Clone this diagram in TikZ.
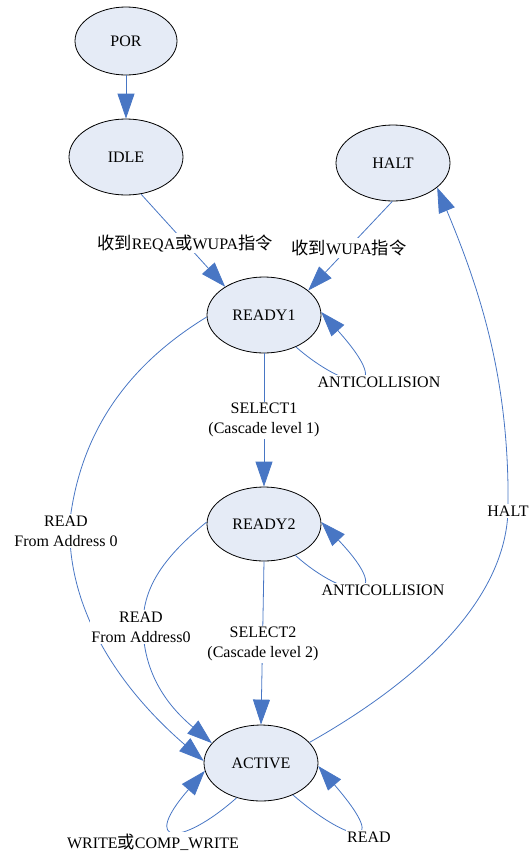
\documentclass[tikz,border=0pt]{standalone}
\usepackage{fontspec}
\setmainfont{Liberation Serif}
\newfontfamily\cjk{Noto Sans CJK SC}[Scale=1.08]
\usetikzlibrary{shapes.geometric,arrows.meta}
\definecolor{statefill}{RGB}{229,235,246}
\definecolor{edgeblue}{RGB}{72,118,196}
\tikzset{
  state/.style={ellipse, draw=black, line width=0.8pt, fill=statefill,
    minimum width=114pt, minimum height=76pt, inner sep=0pt, font=\fontsize{16}{19}\selectfont},
  smallstate/.style={state, minimum width=102pt, minimum height=68pt},
  edge/.style={draw=edgeblue, line width=0.8pt,
    -{Triangle[width=17pt,length=25pt,fill=edgeblue]}},
  lbl/.style={fill=white, inner sep=1.5pt, align=center,
    font=\fontsize{16}{20}\selectfont},
}
\begin{document}
\begin{tikzpicture}[x=1pt,y=-1pt]
\useasboundingbox (0,0) rectangle (531,852);

% states
\node[smallstate] (POR)    at (126,41)  {POR};
\node[state]      (IDLE)   at (126,157) {IDLE};
\node[state]      (HALT)   at (393,163) {HALT};
\node[state]      (READY1) at (264,315) {READY1};
\node[state, minimum height=74pt] (READY2) at (264,524) {READY2};
\node[state]      (ACTIVE) at (261,763) {ACTIVE};

% transitions
\draw[edge] (POR) -- (IDLE);
\draw[edge] (IDLE.-68) -- (READY1.144);
\draw[edge] (HALT.-91) -- (READY1.29);
\draw[edge] (READY1.-45) .. controls (345,390) and (400,400) .. (READY1.3);
\draw[edge] (READY1.south) -- (READY2.north);
\draw[edge] (READY2.-45) .. controls (345,600) and (400,605) .. (READY2.2);
\draw[edge] (READY2.south) -- (ACTIVE.north);
\draw[edge] (READY1.182) .. controls (120,370) and (80,440) .. (70,520)
            .. controls (66,600) and (110,680) .. (ACTIVE.178);
\draw[edge] (READY2.178) .. controls (160,560) and (143,590) .. (143,625)
            .. controls (143,680) and (175,712) .. (ACTIVE.158);
\draw[edge] (ACTIVE.23) .. controls (420,680) and (505,600) .. (508,511)
            .. controls (510,380) and (480,290) .. (HALT.-29);
\draw[edge] (ACTIVE.-125) .. controls (180,848) and (140,845) .. (ACTIVE.-172);
\draw[edge] (ACTIVE.-45) .. controls (345,840) and (395,855) .. (ACTIVE.-3);

% transition labels
\node[lbl] (l1) at (185,243) {{\cjk 收到}REQA{\cjk 或}WUPA{\cjk 指令}};
\node[lbl] (l2) at (349,248) {{\cjk 收到}WUPA{\cjk 指令}};
\node[lbl] (l3) at (379,382) {ANTICOLLISION};
\node[lbl] (l4) at (264,420) {SELECT1\\(Cascade level 1)};
\node[lbl] (l5) at (383,590) {ANTICOLLISION};
\node[lbl] (l6) at (263,644) {SELECT2\\(Cascade level 2)};
\node[lbl] (l7) at (66,531)  {READ\\From Address 0};
\node[lbl] (l8) at (141,627) {READ\\From Address0};
\node[lbl] (l9) at (508,511) {HALT};
\node[lbl] (l10) at (153,842) {WRITE{\cjk 或}COMP\_WRITE};
\node[lbl] (l11) at (369,837) {READ};
\end{tikzpicture}
\end{document}
